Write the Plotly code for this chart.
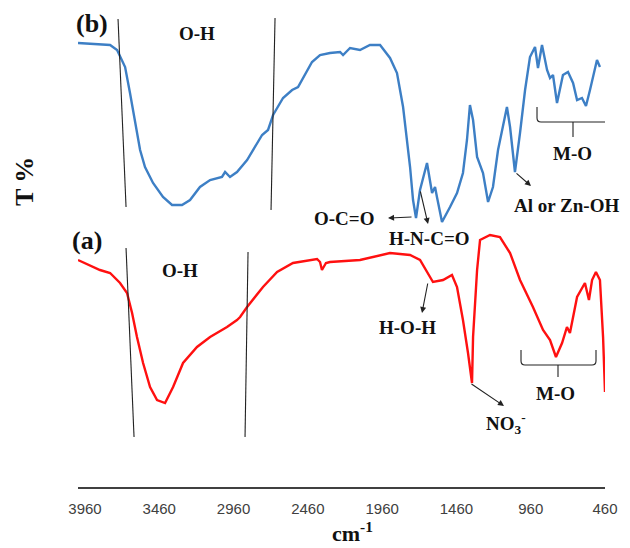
import plotly.graph_objects as go

# ---------------- data (wavenumber cm-1, transmittance in arbitrary units) ----------------
wn_b = [4007, 3791, 3744, 3724, 3690, 3657, 3623, 3589, 3556, 3502, 3435, 3374, 3307, 3253,
        3186, 3118, 3038, 3017, 2984, 2937, 2869, 2829, 2768, 2728, 2694, 2627, 2566, 2526,
        2479, 2432, 2378, 2311, 2243, 2223, 2176, 2109, 2042, 1974, 1907, 1860, 1819, 1793,
        1772, 1752, 1732, 1705, 1658, 1624, 1604, 1591, 1557, 1503, 1456, 1416, 1389, 1369,
        1348, 1321, 1281, 1247, 1214, 1180, 1120, 1099, 1066, 1032, 998, 965, 931, 911, 884,
        850, 830, 810, 783, 743, 709, 675, 648, 615, 588, 561, 514, 494]
t_b = [444, 442, 437, 430, 420, 394, 364, 337, 320, 304, 290, 282, 282, 287,
       300, 307, 310, 315, 310, 315, 327, 337, 352, 357, 372, 389, 397, 400,
       412, 425, 432, 434, 435, 432, 439, 437, 442, 442, 429, 414, 380, 347,
       320, 287, 269, 297, 324, 294, 300, 290, 265, 280, 294, 314, 347, 382,
       367, 330, 314, 285, 300, 337, 380, 360, 315, 354, 397, 430, 440, 419, 442,
       417, 409, 412, 384, 412, 415, 404, 387, 389, 381, 397, 427, 420]

wn_a = [4007, 3859, 3791, 3724, 3677, 3643, 3610, 3569, 3522, 3475, 3421, 3367, 3300, 3206,
        3118, 3004, 2937, 2916, 2869, 2762, 2667, 2560, 2398, 2378, 2365, 2338, 2311, 2109,
        1907, 1772, 1705, 1651, 1618, 1550, 1490, 1456, 1416, 1382, 1355, 1348, 1321, 1301,
        1234, 1167, 1099, 1032, 945, 877, 830, 790, 749, 716, 696, 648, 595, 568, 547, 521,
        494, 473, 460]
t_a = [227, 217, 214, 204, 194, 174, 150, 124, 100, 87, 84, 100, 124, 140,
       150, 160, 167, 170, 180, 200, 215, 224, 228, 225, 217, 224, 225, 227,
       234, 232, 227, 214, 205, 207, 212, 200, 167, 134, 104, 150, 217, 247,
       252, 250, 234, 207, 180, 157, 147, 130, 144, 160, 154, 190, 204, 187, 207, 215,
       207, 150, 95]

tick_vals = [3960, 3460, 2960, 2460, 1960, 1460, 960, 460]
tick_text = ["3960", "3460", "2960", "2460", "1960", "1460", "960", "460"]

# page has an 8 px body margin: the figure is drawn 8 px right and 8 px down
OFF = 8
PLOT_L, PLOT_R, PLOT_B = 78, 605, 487      # page pixels of the plot area
FIG_W, FIG_H = 630 - OFF, 548 - OFF
PLOT_H = PLOT_B - OFF

# ---------------- helpers: page pixel position -> axis / paper coordinates ---------------
def X(px):
    return 460 + (605 - px) * 6.73

def Y(py):
    return 487 - py

def PX(px):
    return (px - PLOT_L) / (PLOT_R - PLOT_L)

def PY(py):
    return (PLOT_B - py) / PLOT_H

SERIF = "Liberation Serif"
BLUE = "#3d7fc5"
RED = "#ff1010"

fig = go.Figure()
fig.add_trace(go.Scatter(x=wn_b, y=t_b, mode="lines", line=dict(color=BLUE, width=2.4),
                         showlegend=False, hoverinfo="skip"))
fig.add_trace(go.Scatter(x=wn_a, y=t_a, mode="lines", line=dict(color=RED, width=2.4),
                         showlegend=False, hoverinfo="skip"))

shapes = []
def seg(x0, y0, x1, y1, w=1.1, c="#222222"):
    shapes.append(dict(type="line", xref="x", yref="y", x0=X(x0), y0=Y(y0), x1=X(x1), y1=Y(y1),
                       line=dict(color=c, width=w)))

# vertical band lines
seg(118, 19, 126, 207)
seg(275, 18, 271, 210)
seg(126, 248, 134, 437)
seg(248, 252, 245, 437)

def bracket(xl, xr, ytop, ybot, xc, ytick):
    r = 4
    path = (f"M {X(xl)},{Y(ytop)} L {X(xl)},{Y(ybot - r)} Q {X(xl)},{Y(ybot)} {X(xl + r)},{Y(ybot)} "
            f"L {X(xr - r)},{Y(ybot)} Q {X(xr)},{Y(ybot)} {X(xr)},{Y(ybot - r)} L {X(xr)},{Y(ytop)} "
            f"M {X(xc)},{Y(ybot)} L {X(xc)},{Y(ytick)}")
    shapes.append(dict(type="path", xref="x", yref="y", path=path,
                       line=dict(color="#222222", width=1.1)))

bracket(537, 612, 107, 122, 573, 137)
bracket(521, 596, 350, 365, 558, 377)

annotations = []
def text(px, py, s, size=20):
    annotations.append(dict(x=PX(px), y=PY(py), xref="paper", yref="paper", text=f"<b>{s}</b>",
                            showarrow=False, font=dict(family=SERIF, size=size, color="#111111"),
                            xanchor="center", yanchor="middle"))

def arrow(tx, ty, hx, hy):
    annotations.append(dict(x=X(hx), y=Y(hy), xref="x", yref="y", ax=X(tx), ay=Y(ty),
                            axref="x", ayref="y", text="", showarrow=True, arrowhead=2,
                            arrowsize=1.1, arrowwidth=1.1, arrowcolor="#222222"))

text(92, 24, "(b)", 26)
text(197, 33, "O-H", 19)
text(87, 240, "(a)", 26)
text(180, 270, "O-H", 19)
text(344, 218, "O-C=O", 19)
text(429, 238, "H-N-C=O", 19)
text(566, 205, "Al or Zn-OH", 19)
text(572, 153, "M-O", 19)
text(407, 327, "H-O-H", 19)
text(506, 423, "NO<sub>3</sub><sup>-</sup>", 19)
text(555, 393, "M-O", 19)

arrow(413, 217, 388, 218)
arrow(420, 190, 428, 224)
arrow(515, 172, 531, 186)
arrow(428, 282, 422, 313)
arrow(470, 383, 504, 406)

# axis titles
text(24, 182, "T %", 26)
annotations[-1]["textangle"] = -90
text(352, 532, "cm<sup>-1</sup>", 22)

fig.update_layout(
    width=FIG_W, height=FIG_H,
    margin=dict(l=PLOT_L - OFF, r=FIG_W - (PLOT_R - OFF), t=0, b=FIG_H - PLOT_H),
    paper_bgcolor="white", plot_bgcolor="white",
    shapes=shapes, annotations=annotations,
    xaxis=dict(range=[4007, 460], tickvals=tick_vals, ticktext=tick_text,
               showline=True, linecolor="#404040", linewidth=2, showgrid=False, zeroline=False,
               ticks="", ticklabelstandoff=7,
               tickfont=dict(family="Liberation Sans", size=15, color="#404040")),
    yaxis=dict(range=[0, PLOT_H], visible=False, showgrid=False, zeroline=False),
)

fig.write_html("out.html")
